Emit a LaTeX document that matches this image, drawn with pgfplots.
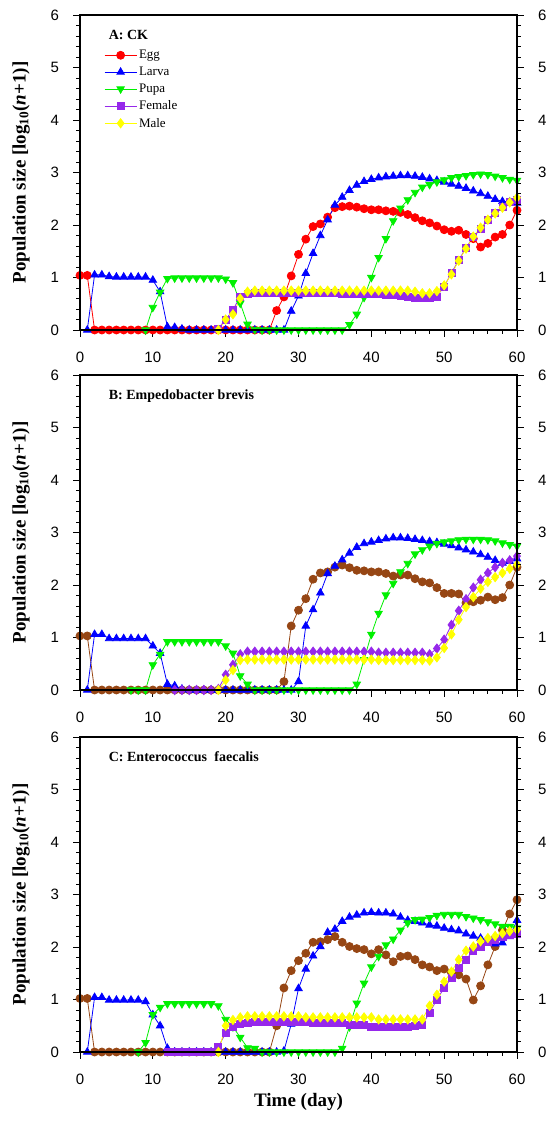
\documentclass[border=0pt]{standalone}
\usepackage{fontspec}
\setmainfont{Liberation Serif}
\newfontfamily\arial{Liberation Sans}
\usepackage{pgfplots}
\pgfplotsset{compat=1.18}
\definecolor{cEgg}{RGB}{255,0,0}
\definecolor{cLar}{RGB}{0,0,255}
\definecolor{cPup}{RGB}{0,240,0}
\definecolor{cFem}{RGB}{150,40,235}
\definecolor{cMal}{RGB}{255,255,0}
\definecolor{cBrn}{RGB}{150,70,20}
\pgfplotsset{
 panel/.style={scale only axis, width=437pt, height=315pt, anchor=south west,
  xmin=0, xmax=60, ymin=0, ymax=6,
  xtick={0,10,20,30,40,50,60}, ytick={0,1,2,3,4,5,6},
  minor x tick num=4, minor y tick num=4,
  tick align=outside, xtick pos=bottom, ytick pos=left,
  major tick length=6.5pt, minor tick length=3.5pt,
  axis line style={line width=1.1pt},
  every tick/.style={black, line width=0.9pt},
  ticklabel style={font=\arial\fontsize{15}{15}\selectfont},
  /pgf/number format/assume math mode=true,
  xticklabel shift=12pt, yticklabel shift=11pt,
  clip=false,
  ylabel={Population size [log\textsubscript{10}(\textit{n}+1)]},
  ylabel style={font=\bfseries\fontsize{19}{19}\selectfont, at={(axis description cs:-0.107,0.5)}, anchor=south},
 },
 rpanel/.style={panel, ytick pos=right, yticklabel pos=right, xtick=\empty, ylabel={}},
 egg/.style={cEgg, line width=0.8pt, mark=*, mark size=4pt, mark options={solid, fill=cEgg, draw=cEgg}},
 eggb/.style={cBrn, line width=0.8pt, mark=*, mark size=4pt, mark options={solid, fill=cBrn, draw=cBrn}},
 lar/.style={cLar, line width=0.8pt, mark=triangle*, mark size=4.3pt, mark options={solid, fill=cLar, draw=cLar}},
 pup/.style={cPup, line width=0.8pt, mark=triangle*, mark size=4.3pt, mark options={solid, rotate=180, fill=cPup, draw=cPup}},
 fem/.style={cFem, line width=0.8pt, mark=square*, mark size=3.5pt, mark options={solid, fill=cFem, draw=cFem}},
 femd/.style={cFem, line width=0.8pt, mark=diamond*, mark size=4.6pt, mark options={solid, fill=cFem, draw=cFem}},
 mal/.style={cMal, line width=0.8pt, mark=diamond*, mark size=4.6pt, mark options={solid, fill=cMal, draw=cMal}},
}
\begin{document}
\begin{tikzpicture}
\useasboundingbox (-80pt,0pt) rectangle (470pt,-1121pt);
% ---------------- Panel A ----------------
\begin{axis}[panel, at={(0pt,-330pt)},
  legend style={draw=none, fill=none, at={(0.055,0.895)}, anchor=north west,
    font=\fontsize{13}{13}\selectfont, row sep=2.8pt, inner sep=0pt},
  legend cell align=left,
  legend image code/.code={\draw[mark repeat=2,mark phase=2,#1] plot coordinates {(0pt,0pt) (16pt,0pt) (32pt,0pt)};}]
\addplot[egg] coordinates {(0,1.04)(1,1.04)(2,0)(3,0)(4,0)(5,0)(6,0)(7,0)(8,0)(9,0)(10,0)(11,0)(12,0)(13,0)(14,0)(15,0)(16,0)(17,0)(18,0)(19,0)(20,0)(21,0)(22,0)(23,0)(24,0)(25,0)(26,0)(27,0.37)(28,0.63)(29,1.03)(30,1.44)(31,1.73)(32,1.97)(33,2.02)(34,2.15)(35,2.33)(36,2.35)(37,2.36)(38,2.34)(39,2.31)(40,2.29)(41,2.29)(42,2.27)(43,2.26)(44,2.24)(45,2.20)(46,2.14)(47,2.08)(48,2.04)(49,1.98)(50,1.91)(51,1.88)(52,1.90)(53,1.82)(54,1.74)(55,1.58)(56,1.65)(57,1.77)(58,1.82)(59,2.00)(60,2.28)};
\addlegendentry{Egg}
\addplot[lar] coordinates {(1,0)(2,1.05)(3,1.05)(4,1.02)(5,1.01)(6,1.01)(7,1.01)(8,1.01)(9,1.01)(10,0.95)(11,0.73)(12,0.06)(13,0.05)(14,0.02)(15,0)(16,0)(17,0)(18,0)(19,0)(20,0)(21,0)(22,0)(23,0)(24,0)(25,0)(26,0)(27,0)(28,0)(29,0.36)(30,0.65)(31,1.08)(32,1.46)(33,1.80)(34,2.10)(35,2.38)(36,2.53)(37,2.66)(38,2.76)(39,2.83)(40,2.87)(41,2.90)(42,2.92)(43,2.93)(44,2.94)(45,2.94)(46,2.93)(47,2.91)(48,2.88)(49,2.85)(50,2.82)(51,2.78)(52,2.74)(53,2.70)(54,2.65)(55,2.60)(56,2.55)(57,2.49)(58,2.45)(59,2.44)(60,2.42)};
\addlegendentry{Larva}
\addplot[pup] coordinates {(9,0)(10,0.43)(11,0.72)(12,0.98)(13,0.99)(14,0.99)(15,0.99)(16,0.99)(17,0.99)(18,0.99)(19,0.99)(20,0.97)(21,0.90)(22,0.51)(23,0.11)(24,0.01)(25,0)(26,0)(27,0)(28,0)(29,0)(30,0)(31,0)(32,0)(33,0)(34,0)(35,0)(36,0)(37,0.10)(38,0.30)(39,0.62)(40,1.00)(41,1.38)(42,1.74)(43,2.08)(44,2.32)(45,2.48)(46,2.62)(47,2.72)(48,2.77)(49,2.82)(50,2.86)(51,2.90)(52,2.92)(53,2.94)(54,2.96)(55,2.97)(56,2.96)(57,2.93)(58,2.90)(59,2.87)(60,2.85)};
\addlegendentry{Pupa}
\addplot[fem] coordinates {(19,0.03)(20,0.20)(21,0.38)(22,0.64)(23,0.68)(24,0.70)(25,0.70)(26,0.70)(27,0.70)(28,0.70)(29,0.70)(30,0.70)(31,0.70)(32,0.70)(33,0.70)(34,0.70)(35,0.70)(36,0.69)(37,0.69)(38,0.69)(39,0.69)(40,0.69)(41,0.69)(42,0.67)(43,0.66)(44,0.65)(45,0.64)(46,0.62)(47,0.62)(48,0.62)(49,0.64)(50,0.83)(51,1.09)(52,1.33)(53,1.57)(54,1.77)(55,1.92)(56,2.10)(57,2.23)(58,2.34)(59,2.44)(60,2.48)};
\addlegendentry{Female}
\addplot[mal] coordinates {(19,0)(20,0.20)(21,0.30)(22,0.60)(23,0.73)(24,0.75)(25,0.75)(26,0.75)(27,0.75)(28,0.75)(29,0.75)(30,0.75)(31,0.75)(32,0.75)(33,0.75)(34,0.75)(35,0.75)(36,0.75)(37,0.75)(38,0.75)(39,0.75)(40,0.75)(41,0.75)(42,0.75)(43,0.75)(44,0.75)(45,0.75)(46,0.73)(47,0.70)(48,0.70)(49,0.74)(50,0.85)(51,1.06)(52,1.32)(53,1.55)(54,1.78)(55,1.95)(56,2.10)(57,2.22)(58,2.33)(59,2.43)(60,2.52)};
\addlegendentry{Male}
\node[anchor=base west, font=\bfseries\fontsize{14}{14}\selectfont] at (rel axis cs:0.058,0.922) {A: CK};
\end{axis}
\begin{axis}[rpanel, at={(0pt,-330pt)}]
\addplot[draw=none] coordinates {(0,0)};
\end{axis}
% ---------------- Panel B ----------------
\begin{axis}[panel, at={(0pt,-690pt)}]
\addplot[eggb] coordinates {(0,1.03)(1,1.03)(2,0)(3,0)(4,0)(5,0)(6,0)(7,0)(8,0)(9,0)(10,0)(11,0)(12,0)(13,0)(14,0)(15,0)(16,0)(17,0)(18,0)(19,0)(20,0)(21,0)(22,0)(23,0)(24,0)(25,0)(26,0)(27,0)(28,0.16)(29,1.22)(30,1.52)(31,1.74)(32,2.11)(33,2.23)(34,2.25)(35,2.34)(36,2.38)(37,2.33)(38,2.28)(39,2.27)(40,2.25)(41,2.25)(42,2.22)(43,2.17)(44,2.19)(45,2.19)(46,2.12)(47,2.06)(48,2.04)(49,1.95)(50,1.84)(51,1.84)(52,1.83)(53,1.66)(54,1.68)(55,1.71)(56,1.77)(57,1.72)(58,1.76)(59,2.00)(60,2.34)};
\addplot[lar] coordinates {(1,0)(2,1.06)(3,1.06)(4,0.98)(5,0.98)(6,0.98)(7,0.98)(8,0.98)(9,0.98)(10,0.84)(11,0.70)(12,0.11)(13,0.08)(14,0.02)(15,0)(16,0)(17,0)(18,0)(19,0)(20,0)(21,0)(22,0)(23,0)(24,0)(25,0)(26,0)(27,0)(28,0)(29,0)(30,0.16)(31,1.22)(32,1.53)(33,1.85)(34,2.22)(35,2.36)(36,2.48)(37,2.61)(38,2.72)(39,2.79)(40,2.82)(41,2.85)(42,2.88)(43,2.90)(44,2.90)(45,2.89)(46,2.87)(47,2.85)(48,2.83)(49,2.81)(50,2.78)(51,2.75)(52,2.71)(53,2.67)(54,2.63)(55,2.58)(56,2.53)(57,2.47)(58,2.42)(59,2.45)(60,2.50)};
\addplot[pup] coordinates {(7,0)(8,0)(9,0)(10,0.48)(11,0.68)(12,0.92)(13,0.92)(14,0.92)(15,0.92)(16,0.92)(17,0.92)(18,0.92)(19,0.92)(20,0.84)(21,0.70)(22,0.27)(23,0.11)(24,0)(25,0)(26,0)(27,0)(28,0)(29,0)(30,0)(31,0)(32,0)(33,0)(34,0)(35,0)(36,0)(37,0)(38,0.11)(39,0.58)(40,1.06)(41,1.46)(42,1.81)(43,2.03)(44,2.25)(45,2.41)(46,2.59)(47,2.67)(48,2.74)(49,2.79)(50,2.82)(51,2.84)(52,2.86)(53,2.87)(54,2.87)(55,2.87)(56,2.86)(57,2.84)(58,2.80)(59,2.77)(60,2.74)};
\addplot[femd] coordinates {(13,0)(14,0)(15,0)(16,0)(17,0)(18,0)(19,0.02)(20,0.29)(21,0.48)(22,0.68)(23,0.73)(24,0.73)(25,0.73)(26,0.73)(27,0.73)(28,0.73)(29,0.73)(30,0.73)(31,0.73)(32,0.73)(33,0.73)(34,0.73)(35,0.73)(36,0.73)(37,0.73)(38,0.73)(39,0.73)(40,0.73)(41,0.71)(42,0.71)(43,0.71)(44,0.71)(45,0.71)(46,0.71)(47,0.71)(48,0.68)(49,0.79)(50,0.96)(51,1.24)(52,1.51)(53,1.73)(54,1.95)(55,2.10)(56,2.23)(57,2.34)(58,2.42)(59,2.47)(60,2.55)};
\addplot[mal] coordinates {(19,0)(20,0.19)(21,0.38)(22,0.57)(23,0.58)(24,0.58)(25,0.58)(26,0.58)(27,0.58)(28,0.58)(29,0.58)(30,0.58)(31,0.58)(32,0.58)(33,0.58)(34,0.58)(35,0.58)(36,0.58)(37,0.58)(38,0.58)(39,0.58)(40,0.58)(41,0.57)(42,0.57)(43,0.57)(44,0.57)(45,0.57)(46,0.57)(47,0.57)(48,0.56)(49,0.62)(50,0.80)(51,1.06)(52,1.34)(53,1.58)(54,1.77)(55,1.93)(56,2.06)(57,2.15)(58,2.23)(59,2.31)(60,2.39)};
\node[anchor=base west, font=\bfseries\fontsize{14}{14}\selectfont] at (rel axis cs:0.058,0.922) {B: Empedobacter brevis};
\end{axis}
\begin{axis}[rpanel, at={(0pt,-690pt)}]
\addplot[draw=none] coordinates {(0,0)};
\end{axis}
% ---------------- Panel C ----------------
\begin{axis}[panel, at={(0pt,-1052pt)},
  xlabel={Time (day)},
  xlabel style={font=\bfseries\fontsize{19}{19}\selectfont, at={(axis description cs:0.5,-0.12)}, anchor=north}]
\addplot[eggb] coordinates {(0,1.02)(1,1.02)(2,0)(3,0)(4,0)(5,0)(6,0)(7,0)(8,0)(9,0)(10,0)(11,0)(12,0)(13,0)(14,0)(15,0)(16,0)(17,0)(18,0)(19,0)(20,0)(21,0)(22,0)(23,0)(24,0)(25,0)(26,0)(27,0.50)(28,1.22)(29,1.55)(30,1.74)(31,1.88)(32,2.09)(33,2.10)(34,2.14)(35,2.20)(36,2.09)(37,2.01)(38,1.97)(39,1.95)(40,1.87)(41,1.95)(42,1.85)(43,1.72)(44,1.82)(45,1.83)(46,1.76)(47,1.66)(48,1.62)(49,1.55)(50,1.58)(51,1.51)(52,1.47)(53,1.39)(54,0.99)(55,1.26)(56,1.66)(57,2.01)(58,2.32)(59,2.63)(60,2.90)};
\addplot[lar] coordinates {(1,0)(2,1.04)(3,1.04)(4,0.99)(5,0.99)(6,0.99)(7,0.99)(8,0.99)(9,0.96)(10,0.71)(11,0.50)(12,0.07)(13,0)(14,0)(15,0)(16,0)(17,0)(18,0)(19,0)(20,0)(21,0)(22,0)(23,0)(24,0)(25,0)(26,0)(27,0)(28,0.02)(29,0.53)(30,1.21)(31,1.58)(32,1.83)(33,2.01)(34,2.28)(35,2.34)(36,2.49)(37,2.57)(38,2.61)(39,2.65)(40,2.66)(41,2.65)(42,2.65)(43,2.63)(44,2.57)(45,2.51)(46,2.49)(47,2.46)(48,2.42)(49,2.40)(50,2.36)(51,2.33)(52,2.31)(53,2.25)(54,2.21)(55,2.17)(56,2.10)(57,2.06)(58,2.08)(59,2.20)(60,2.51)};
\addplot[pup] coordinates {(8,0)(9,0.18)(10,0.71)(11,0.85)(12,0.92)(13,0.92)(14,0.92)(15,0.92)(16,0.92)(17,0.92)(18,0.92)(19,0.88)(20,0.62)(21,0.48)(22,0.28)(23,0.08)(24,0.07)(25,0)(26,0)(27,0)(28,0)(29,0)(30,0)(31,0)(32,0)(33,0)(34,0)(35,0)(36,0.07)(37,0.48)(38,0.93)(39,1.31)(40,1.62)(41,1.82)(42,2.04)(43,2.15)(44,2.32)(45,2.46)(46,2.52)(47,2.53)(48,2.56)(49,2.60)(50,2.62)(51,2.62)(52,2.62)(53,2.58)(54,2.55)(55,2.52)(56,2.48)(57,2.44)(58,2.39)(59,2.39)(60,2.36)};
\addplot[fem] coordinates {(12,0)(13,0)(14,0)(15,0)(16,0)(17,0)(18,0)(19,0.10)(20,0.36)(21,0.48)(22,0.53)(23,0.56)(24,0.58)(25,0.58)(26,0.58)(27,0.58)(28,0.58)(29,0.58)(30,0.58)(31,0.58)(32,0.55)(33,0.55)(34,0.55)(35,0.55)(36,0.55)(37,0.52)(38,0.52)(39,0.52)(40,0.48)(41,0.48)(42,0.48)(43,0.48)(44,0.48)(45,0.48)(46,0.50)(47,0.52)(48,0.75)(49,1.00)(50,1.22)(51,1.41)(52,1.60)(53,1.76)(54,1.93)(55,2.01)(56,2.09)(57,2.14)(58,2.19)(59,2.23)(60,2.25)};
\addplot[mal] coordinates {(19,0)(20,0.50)(21,0.61)(22,0.66)(23,0.68)(24,0.68)(25,0.68)(26,0.68)(27,0.68)(28,0.68)(29,0.68)(30,0.68)(31,0.66)(32,0.66)(33,0.66)(34,0.66)(35,0.66)(36,0.66)(37,0.66)(38,0.66)(39,0.66)(40,0.66)(41,0.62)(42,0.62)(43,0.62)(44,0.62)(45,0.62)(46,0.62)(47,0.62)(48,0.88)(49,1.09)(50,1.34)(51,1.53)(52,1.76)(53,1.93)(54,2.01)(55,2.11)(56,2.17)(57,2.21)(58,2.26)(59,2.30)(60,2.33)};
\node[anchor=base west, font=\bfseries\fontsize{14}{14}\selectfont] at (rel axis cs:0.058,0.922) {C: Enterococcus\hspace{4pt} faecalis};
\end{axis}
\begin{axis}[rpanel, at={(0pt,-1052pt)}]
\addplot[draw=none] coordinates {(0,0)};
\end{axis}
\end{tikzpicture}
\end{document}
